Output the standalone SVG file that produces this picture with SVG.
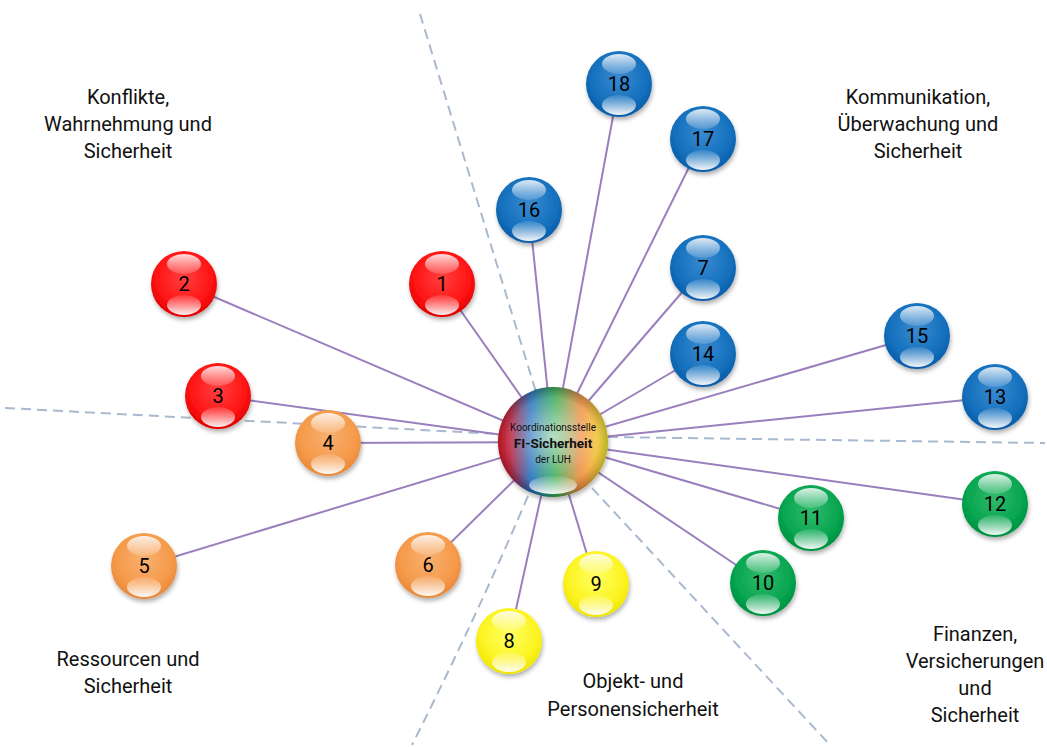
<svg xmlns="http://www.w3.org/2000/svg" width="1047" height="747" viewBox="0 0 1047 747">
<defs>
<style>
.lbl{font-family:Roboto,"Noto Sans","Liberation Sans",sans-serif;font-size:20px;fill:#111;text-anchor:middle}
.num{font-family:Roboto,"Noto Sans","Liberation Sans",sans-serif;font-size:20px;fill:#000;text-anchor:middle}
.link{stroke:#9a7fbd;stroke-width:2;fill:none}
.dash{stroke:#a9b9cf;stroke-width:2;stroke-dasharray:10 6;fill:none}
.ctr{font-family:Roboto,"Noto Sans","Liberation Sans",sans-serif;fill:#111;text-anchor:middle}
</style>
<filter id="sh" x="-30%" y="-30%" width="160%" height="160%">
<feDropShadow dx="1" dy="3" stdDeviation="2" flood-color="#000" flood-opacity="0.3"/>
</filter>
<radialGradient id="gRed" cx="50%" cy="40%" r="60%"><stop offset="0" stop-color="#ff4040"/><stop offset="0.7" stop-color="#ff1414"/><stop offset="1" stop-color="#e00000"/></radialGradient>
<radialGradient id="gOra" cx="50%" cy="40%" r="60%"><stop offset="0" stop-color="#f8b070"/><stop offset="0.7" stop-color="#f59a4a"/><stop offset="1" stop-color="#e8883a"/></radialGradient>
<radialGradient id="gYel" cx="50%" cy="40%" r="60%"><stop offset="0" stop-color="#ffff60"/><stop offset="0.7" stop-color="#fcf422"/><stop offset="1" stop-color="#f0e400"/></radialGradient>
<radialGradient id="gGrn" cx="50%" cy="40%" r="60%"><stop offset="0" stop-color="#30bb6c"/><stop offset="0.7" stop-color="#07a550"/><stop offset="1" stop-color="#009040"/></radialGradient>
<radialGradient id="gBlu" cx="50%" cy="40%" r="60%"><stop offset="0" stop-color="#3a8ad0"/><stop offset="0.7" stop-color="#1470bd"/><stop offset="1" stop-color="#0a5ca8"/></radialGradient>
<linearGradient id="hlTop" x1="0" y1="0" x2="0" y2="1"><stop offset="0" stop-color="#fff" stop-opacity="0.85"/><stop offset="1" stop-color="#fff" stop-opacity="0.15"/></linearGradient>
<linearGradient id="hlBot" x1="0" y1="0" x2="0" y2="1"><stop offset="0" stop-color="#fff" stop-opacity="0.1"/><stop offset="1" stop-color="#fff" stop-opacity="0.95"/></linearGradient>
<linearGradient id="gCtr" x1="0" y1="0" x2="1" y2="0"><stop offset="0" stop-color="#e4101e"/><stop offset="0.12" stop-color="#b8203e"/><stop offset="0.3" stop-color="#1a6cbf"/><stop offset="0.52" stop-color="#2ea84c"/><stop offset="0.75" stop-color="#f08a3c"/><stop offset="1" stop-color="#f6ea2a"/></linearGradient>
<radialGradient id="gCtrHi" cx="50%" cy="45%" r="55%"><stop offset="0" stop-color="#fff" stop-opacity="0.65"/><stop offset="0.55" stop-color="#fff" stop-opacity="0.25"/><stop offset="1" stop-color="#fff" stop-opacity="0"/></radialGradient>
<radialGradient id="gCtrRim" cx="50%" cy="50%" r="50%"><stop offset="0.8" stop-color="#000" stop-opacity="0"/><stop offset="1" stop-color="#000" stop-opacity="0.25"/></radialGradient>
<g id="gloss">
<ellipse cx="0" cy="-20" rx="17" ry="10" fill="url(#hlTop)"/>
<ellipse cx="0" cy="21" rx="17" ry="10" fill="url(#hlBot)"/>
</g>
</defs>
<rect width="1047" height="747" fill="#fff"/>

<g id="dividers">
<path class="dash" d="M420,14 L536,392"/>
<path class="dash" d="M528,496 Q475,620 412,745"/>
<path class="dash" d="M592,488 L830,745"/>
<path class="dash" d="M5,408 L498,434"/>
<path class="dash" d="M608,437 L1045,443"/>
</g>

<g id="labels">
<text class="lbl" x="128" y="104">Konflikte,</text>
<text class="lbl" x="128" y="131">Wahrnehmung und</text>
<text class="lbl" x="128" y="158">Sicherheit</text>
<text class="lbl" x="918" y="104">Kommunikation,</text>
<text class="lbl" x="918" y="131">Überwachung und</text>
<text class="lbl" x="918" y="158">Sicherheit</text>
<text class="lbl" x="128" y="666">Ressourcen und</text>
<text class="lbl" x="128" y="693">Sicherheit</text>
<text class="lbl" x="633" y="688">Objekt- und</text>
<text class="lbl" x="633" y="716">Personensicherheit</text>
<text class="lbl" x="975" y="641">Finanzen,</text>
<text class="lbl" x="975" y="668">Versicherungen</text>
<text class="lbl" x="975" y="695">und</text>
<text class="lbl" x="975" y="722">Sicherheit</text>
</g>

<g id="connectors">
<line class="link" x1="553" y1="442" x2="442" y2="284"/>
<line class="link" x1="553" y1="442" x2="184" y2="284"/>
<line class="link" x1="553" y1="442" x2="218" y2="396"/>
<line class="link" x1="553" y1="442" x2="328" y2="443"/>
<line class="link" x1="553" y1="442" x2="144" y2="566"/>
<line class="link" x1="553" y1="442" x2="428" y2="565"/>
<line class="link" x1="553" y1="442" x2="703" y2="268"/>
<line class="link" x1="553" y1="442" x2="509" y2="641"/>
<line class="link" x1="553" y1="442" x2="596" y2="584"/>
<line class="link" x1="553" y1="442" x2="763" y2="583"/>
<line class="link" x1="553" y1="442" x2="811" y2="518"/>
<line class="link" x1="553" y1="442" x2="995" y2="504"/>
<line class="link" x1="553" y1="442" x2="995" y2="397"/>
<line class="link" x1="553" y1="442" x2="703" y2="354"/>
<line class="link" x1="553" y1="442" x2="917" y2="336"/>
<line class="link" x1="553" y1="442" x2="529" y2="210"/>
<line class="link" x1="553" y1="442" x2="703" y2="139"/>
<line class="link" x1="553" y1="442" x2="619" y2="84"/>
</g>

<g id="n1" transform="translate(442,284)"><circle r="33" fill="url(#gRed)" filter="url(#sh)"/><use href="#gloss"/><text class="num" y="7">1</text></g>
<g id="n2" transform="translate(184,284)"><circle r="33" fill="url(#gRed)" filter="url(#sh)"/><use href="#gloss"/><text class="num" y="7">2</text></g>
<g id="n3" transform="translate(218,396)"><circle r="33" fill="url(#gRed)" filter="url(#sh)"/><use href="#gloss"/><text class="num" y="7">3</text></g>
<g id="n4" transform="translate(328,443)"><circle r="33" fill="url(#gOra)" filter="url(#sh)"/><use href="#gloss"/><text class="num" y="7">4</text></g>
<g id="n5" transform="translate(144,566)"><circle r="33" fill="url(#gOra)" filter="url(#sh)"/><use href="#gloss"/><text class="num" y="7">5</text></g>
<g id="n6" transform="translate(428,565)"><circle r="33" fill="url(#gOra)" filter="url(#sh)"/><use href="#gloss"/><text class="num" y="7">6</text></g>
<g id="n7" transform="translate(703,268)"><circle r="33" fill="url(#gBlu)" filter="url(#sh)"/><use href="#gloss"/><text class="num" y="7">7</text></g>
<g id="n8" transform="translate(509,641)"><circle r="33" fill="url(#gYel)" filter="url(#sh)"/><use href="#gloss"/><text class="num" y="7">8</text></g>
<g id="n9" transform="translate(596,584)"><circle r="33" fill="url(#gYel)" filter="url(#sh)"/><use href="#gloss"/><text class="num" y="7">9</text></g>
<g id="n10" transform="translate(763,583)"><circle r="33" fill="url(#gGrn)" filter="url(#sh)"/><use href="#gloss"/><text class="num" y="7">10</text></g>
<g id="n11" transform="translate(811,518)"><circle r="33" fill="url(#gGrn)" filter="url(#sh)"/><use href="#gloss"/><text class="num" y="7">11</text></g>
<g id="n12" transform="translate(995,504)"><circle r="33" fill="url(#gGrn)" filter="url(#sh)"/><use href="#gloss"/><text class="num" y="7">12</text></g>
<g id="n13" transform="translate(995,397)"><circle r="33" fill="url(#gBlu)" filter="url(#sh)"/><use href="#gloss"/><text class="num" y="7">13</text></g>
<g id="n14" transform="translate(703,354)"><circle r="33" fill="url(#gBlu)" filter="url(#sh)"/><use href="#gloss"/><text class="num" y="7">14</text></g>
<g id="n15" transform="translate(917,336)"><circle r="33" fill="url(#gBlu)" filter="url(#sh)"/><use href="#gloss"/><text class="num" y="7">15</text></g>
<g id="n16" transform="translate(529,210)"><circle r="33" fill="url(#gBlu)" filter="url(#sh)"/><use href="#gloss"/><text class="num" y="7">16</text></g>
<g id="n17" transform="translate(703,139)"><circle r="33" fill="url(#gBlu)" filter="url(#sh)"/><use href="#gloss"/><text class="num" y="7">17</text></g>
<g id="n18" transform="translate(619,84)"><circle r="33" fill="url(#gBlu)" filter="url(#sh)"/><use href="#gloss"/><text class="num" y="7">18</text></g>

<g id="center" transform="translate(553,442)">
<circle r="55" fill="url(#gCtr)" filter="url(#sh)"/>
<circle r="55" fill="url(#gCtrHi)"/>
<circle r="55" fill="url(#gCtrRim)"/>
<ellipse cx="0" cy="43" rx="24" ry="9" fill="url(#hlBot)"/>
<text class="ctr" y="-11" font-size="10">Koordinationsstelle</text>
<text class="ctr" y="6" font-size="13.5" font-weight="bold">FI-Sicherheit</text>
<text class="ctr" y="21" font-size="10">der LUH</text>
</g>
</svg>
